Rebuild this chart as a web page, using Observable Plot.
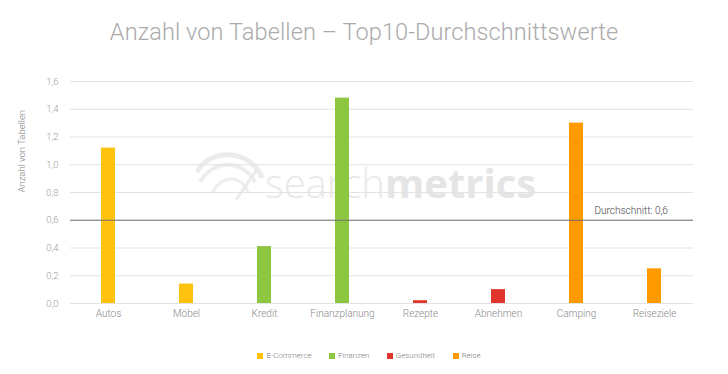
<!DOCTYPE html>
<html><head><meta charset="utf-8">
<script src="https://cdn.jsdelivr.net/npm/d3@7"></script>
<script src="https://cdn.jsdelivr.net/npm/@observablehq/plot@0.6"></script>
<style>
body{margin:0;background:#fff;font-family:Roboto,"Noto Sans",sans-serif;}
#wrap{position:relative;width:728px;height:374px;}
#title{position:absolute;top:18px;left:0;width:728px;text-align:center;font-size:23.5px;font-weight:300;color:#ababab;letter-spacing:0.1px;}
#chart{position:absolute;top:60px;left:0;}
#legend{position:absolute;top:351px;left:0;width:728px;display:flex;justify-content:center;gap:17.5px;font-size:7.9px;font-weight:300;color:#808080;padding-left:10px;box-sizing:border-box;}
#legend span.i{display:flex;align-items:center;gap:3px;}
#legend span.s{display:inline-block;width:6px;height:6px;}
</style></head>
<body><div id="wrap">
<div id="title">Anzahl von Tabellen – Top10-Durchschnittswerte</div>
<div id="chart"></div>
<div id="legend"></div>
</div>
<script>
const categories = ["Autos","Möbel","Kredit","Finanzplanung","Rezepte","Abnehmen","Camping","Reiseziele"];
const values = [1.12,0.14,0.41,1.48,0.02,0.10,1.30,0.25];
const groups = ["E-Commerce","E-Commerce","Finanzen","Finanzen","Gesundheit","Gesundheit","Reise","Reise"];
const groupNames = ["E-Commerce","Finanzen","Gesundheit","Reise"];
const groupColors = ["#FFC20E","#8DC63F","#E0352D","#FF9A00"];
const yTicks = [0,0.2,0.4,0.6,0.8,1.0,1.2,1.4,1.6];
const average = 0.6;
const averageLabel = "Durchschnitt: 0,6";
const yLabel = "Anzahl von Tabellen";

const data = categories.map((c,i)=>({category:c,value:values[i],group:groups[i]}));
const fmt = d => d.toFixed(1).replace(".", ",");

const plot = Plot.plot({
  width: 728, height: 278,
  marginTop: 21, marginBottom: 35, marginLeft: 68, marginRight: 33,
  style: {fontFamily: "Roboto, sans-serif", background: "transparent", fontWeight: 300},
  x: {domain: categories, paddingInner: 0.815, paddingOuter: 0.4075, label: null},
  y: {domain: [0,1.6], label: null},
  color: {domain: groupNames, range: groupColors},
  marks: [
    Plot.ruleY(yTicks, {stroke: "#e3e3e3", strokeWidth: 1, strokeOpacity: 1, insetLeft: 2, insetRight: 2}),
    Plot.axisY({ticks: yTicks, tickFormat: fmt, tickSize: 0, tickPadding: 10, fontSize: 9.5, fill: "#9a9a9a", label: null}),
    Plot.axisX({tickSize: 0, tickPadding: 6, fontSize: 10, fill: "#8a8a8a", label: null}),
    Plot.barY(data, {x: "category", y: "value", fill: "group"}),
    Plot.ruleY([average], {stroke: "#707070", strokeWidth: 1.2, insetLeft: 2, insetRight: 2}),
    Plot.text([averageLabel], {x: [categories[6]], y: [average], dx: 18, dy: -9, textAnchor: "start", fontSize: 10, fill: "#444"}),
    Plot.text([yLabel], {frameAnchor: "left", dx: -47, rotate: -90, fontSize: 9.5, fill: "#808080"})
  ]
});
document.getElementById("chart").appendChild(plot);

// watermark (behind marks)
const svg = d3.select(plot);
const wm = svg.insert("g", ":first-child").attr("fill", "none");
wm.append("path").attr("d","M197 112 C210 88 250 88 262 118").attr("stroke","#ebebeb").attr("stroke-width",5);
wm.append("path").attr("d","M200 122 C212 100 242 98 255 122").attr("stroke","#ededed").attr("stroke-width",4);
wm.append("path").attr("d","M212 133 C222 115 240 114 248 132").attr("stroke","#ededed").attr("stroke-width",3);
wm.append("path").attr("d","M236 140 L258 108").attr("stroke","#eaeaea").attr("stroke-width",3);
const t = wm.append("text").attr("x", 265).attr("y", 138).attr("text-anchor","start").attr("font-size", 40).attr("font-family","'Open Sans', sans-serif").attr("fill","#e9e9e9");
t.append("tspan").attr("font-weight", 300).text("search");
t.append("tspan").attr("font-weight", 700).attr("fill","#e5e5e5").text("metrics");

// legend
const leg = document.getElementById("legend");
groupNames.forEach((n,i)=>{
  const s = document.createElement("span"); s.className="i";
  s.innerHTML = `<span class="s" style="background:${groupColors[i]}"></span>${n}`;
  leg.appendChild(s);
});
</script>
</body></html>
